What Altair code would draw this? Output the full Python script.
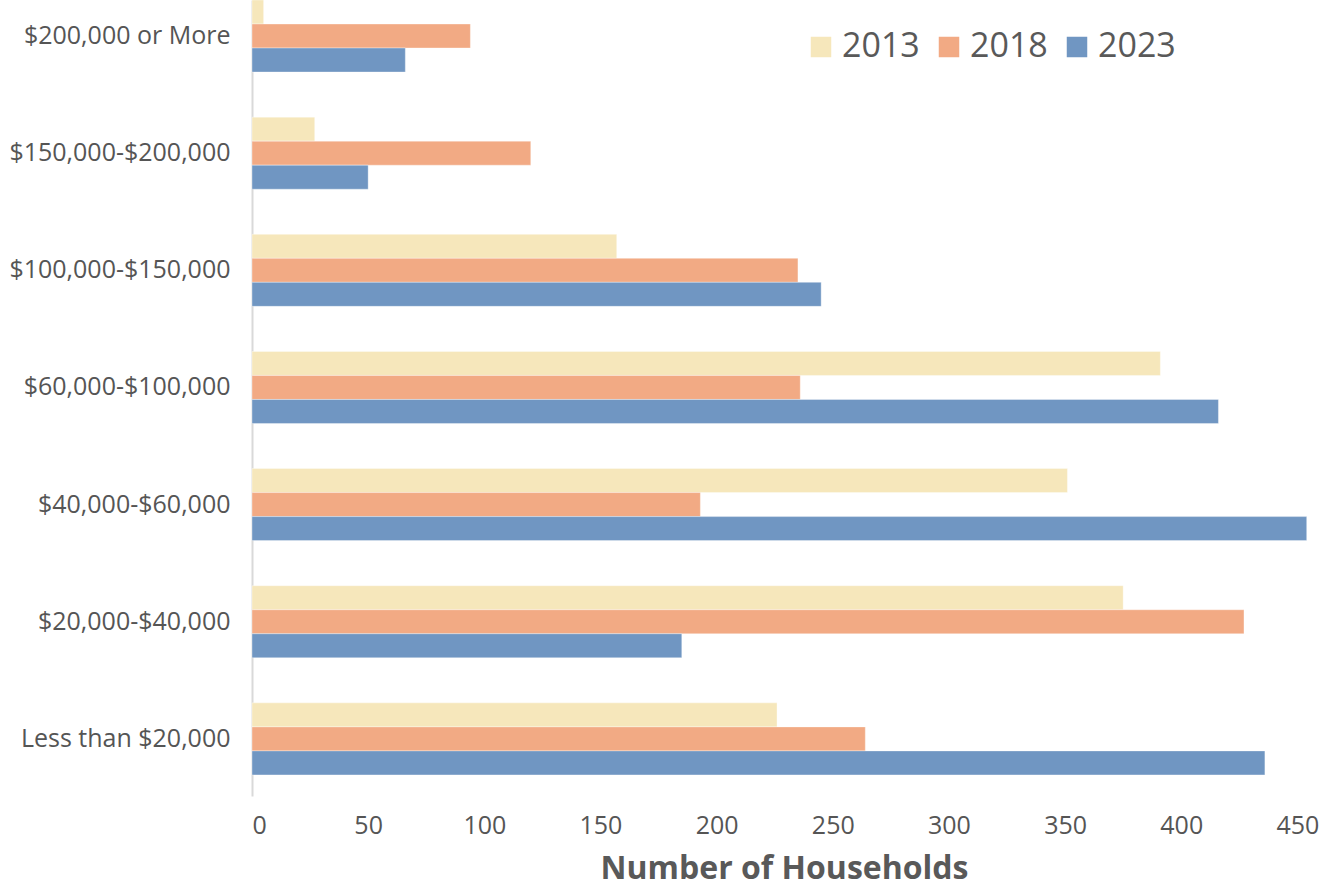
import altair as alt
import pandas as pd

# Household income brackets (top to bottom) and counts per survey year
brackets = [
    "$200,000 or More",
    "$150,000-$200,000",
    "$100,000-$150,000",
    "$60,000-$100,000",
    "$40,000-$60,000",
    "$20,000-$40,000",
    "Less than $20,000",
]
years = ["2013", "2018", "2023"]
households_2013 = [5, 27, 157, 391, 351, 375, 226]
households_2018 = [94, 120, 235, 236, 193, 427, 264]
households_2023 = [66, 50, 245, 416, 454, 185, 436]
year_colors = ["#F6E7BB", "#F2AA84", "#7096C2"]

rows = []
for year, values in zip(years, [households_2013, households_2018, households_2023]):
    for bracket, v in zip(brackets, values):
        rows.append({"bracket": bracket, "year": year, "households": v})
df = pd.DataFrame(rows)

FONT = "Open Sans"
W, H = 1064, 796

chart = (
    alt.Chart(df)
    .mark_bar(strokeWidth=1, strokeOpacity=0.35, stroke="#ffffff")
    .encode(
        y=alt.Y(
            "bracket:N",
            sort=brackets,
            scale=alt.Scale(paddingInner=0.385, paddingOuter=0.09, align=0),
            axis=alt.Axis(
                title=None,
                labelFont=FONT,
                labelFontSize=25,
                labelColor="#555555",
                labelPadding=22,
                labelLimit=400,
                ticks=False,
                domainColor="#d9d9d9",
                domainWidth=2,
                grid=False,
            ),
        ),
        yOffset=alt.YOffset("year:N", sort=years),
        x=alt.X(
            "households:Q",
            scale=alt.Scale(domain=[0, 458], nice=False),
            axis=alt.Axis(
                values=[0, 50, 100, 150, 200, 250, 300, 350, 400, 450],
                title="Number of Households",
                titleFont=FONT,
                titleFontSize=32,
                titleFontWeight="bold",
                titleColor="#595959",
                titlePadding=15,
                labelFont=FONT,
                labelFontSize=25,
                labelColor="#555555",
                labelPadding=17,
                ticks=False,
                domain=False,
                grid=False,
            ),
        ),
        color=alt.Color(
            "year:N",
            sort=years,
            scale=alt.Scale(domain=years, range=year_colors),
            legend=alt.Legend(
                title=None,
                orient="none",
                legendX=552,
                legendY=30,
                direction="horizontal",
                symbolType="square",
                symbolSize=420,
                symbolStrokeWidth=0,
                labelFont=FONT,
                labelFontSize=34,
                labelColor="#595959",
                labelOffset=4,
                columnPadding=12,
            ),
        ),
    )
    .properties(
        width=W,
        height=H,
        autosize=alt.AutoSizeParams(type="none"),
        padding={"left": 252, "top": 0, "right": 1328 - 252 - W, "bottom": 888 - H},
    )
    .configure_view(stroke=None)
)

chart.save("out.html", embed_options={"renderer": "svg", "actions": False})
